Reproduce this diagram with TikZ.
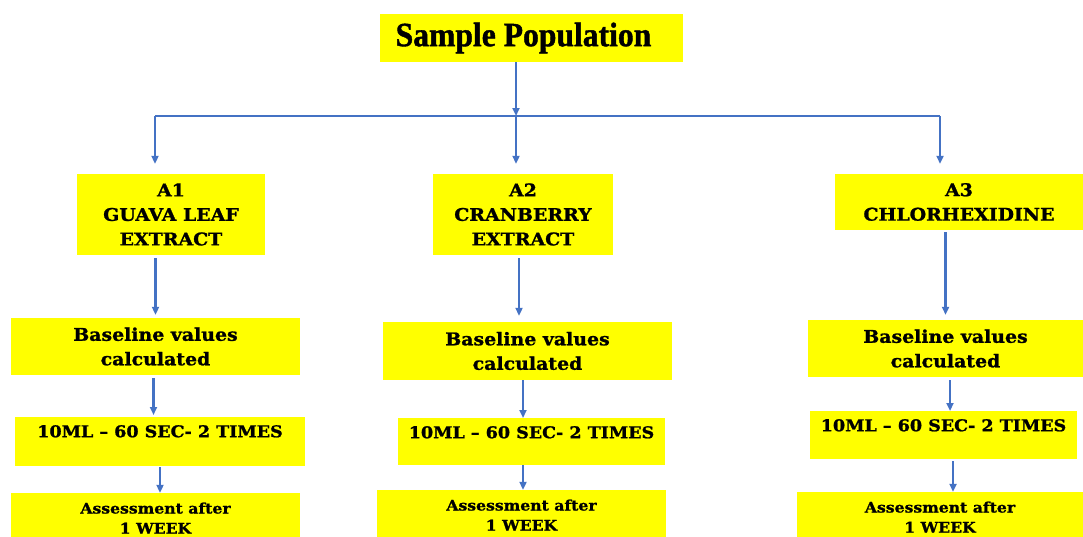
\documentclass[tikz,border=0pt]{standalone}
\usepackage{fontspec}
\setmainfont{DejaVu Serif}
\newfontfamily\bodyfont{DejaVu Serif}[FakeStretch=1.08, BoldFeatures={FakeBold=1.2}]
\newfontfamily\titlefont{Liberation Serif}[FakeStretch=0.93, BoldFeatures={FakeBold=1.2}]
\usetikzlibrary{arrows.meta}
\definecolor{boxyellow}{RGB}{255,255,0}
\definecolor{arrowblue}{RGB}{68,114,196}
\begin{document}
\begin{tikzpicture}[x=1pt,y=-1pt,
  box/.style={fill=boxyellow, draw=none, inner sep=0pt, align=center,
    font=\bodyfont\bfseries\fontsize{17.5}{24.5}\selectfont},
  dosebox/.style={box, anchor=north, text height=20pt,
    font=\bodyfont\bfseries\fontsize{16.2}{22}\selectfont},
  assessbox/.style={box, font=\bodyfont\bfseries\fontsize{14.5}{20}\selectfont},
  conn/.style={draw=arrowblue, line width=2.2pt, -{Triangle[length=8pt,width=7pt]}},
  branch/.style={draw=arrowblue, line width=2.2pt},
]
\useasboundingbox (0,0) rectangle (1083,536);
\clip (0,0) rectangle (1083,536);

% title
\node[box, minimum width=303pt, minimum height=48pt] (top) at (531.5,38)
  {\titlefont\bfseries\fontsize{34}{36}\selectfont Sample Population\hspace*{16pt}};

% groups
\node[box, minimum width=188pt, minimum height=81pt] (a1) at (171,214.5) {A1\\GUAVA LEAF\\EXTRACT};
\node[box, minimum width=180pt, minimum height=81pt] (a2) at (523,214.5) {A2\\CRANBERRY\\EXTRACT};
\node[box, minimum width=248pt, minimum height=56pt] (a3) at (959,202) {A3\\CHLORHEXIDINE};

% baseline
\node[box, minimum width=289pt, minimum height=57pt] (b1) at (155.5,346.5) {Baseline values\\calculated};
\node[box, minimum width=289pt, minimum height=58pt] (b2) at (527.5,351) {Baseline values\\calculated};
\node[box, minimum width=275pt, minimum height=57pt] (b3) at (945.5,348.5) {Baseline values\\calculated};

% dose
\node[dosebox, minimum width=290pt, text depth=29pt] (c1) at (160,417) {10ML – 60 SEC- 2 TIMES};
\node[dosebox, minimum width=267pt, text depth=27pt] (c2) at (531.5,418) {10ML – 60 SEC- 2 TIMES};
\node[dosebox, minimum width=267pt, text depth=28pt] (c3) at (943.5,411) {10ML – 60 SEC- 2 TIMES};

% assessment
\node[assessbox, minimum width=289pt, minimum height=50pt] (d1) at (155.5,518) {Assessment after\\1 WEEK};
\node[assessbox, minimum width=289pt, minimum height=50pt] (d2) at (521.5,515) {Assessment after\\1 WEEK};
\node[assessbox, minimum width=286pt, minimum height=50pt] (d3) at (940,517) {Assessment after\\1 WEEK};

% branching
\coordinate (j) at (516,116);
\coordinate (l) at (155,116);
\coordinate (r) at (940,116);
\draw[conn] (top.south -| j) -- (j);
\draw[branch] (l) -- (r);
\draw[conn, shorten >=10pt] (l) -- (l |- a1.north);
\draw[conn, shorten >=10pt] (j) -- (j |- a2.north);
\draw[conn, shorten >=10pt] (r) -- (r |- a3.north);

% column 1
\draw[conn, shorten <=3pt, shorten >=3pt] (b1.north |- a1.south) -- (b1.north);
\draw[conn, shorten <=3pt, shorten >=2pt] ([xshift=-2pt]b1.south) -- ([xshift=-2pt]b1.south |- c1.north);
\draw[conn, shorten <=1pt] (c1.south) -- (c1.south |- d1.north);

% column 2
\draw[conn, shorten <=3pt, shorten >=6pt] ([xshift=-4pt]a2.south) -- ([xshift=-4pt]a2.south |- b2.north);
\draw[conn] ([xshift=-4.5pt]b2.south) -- ([xshift=-4.5pt]b2.south |- c2.north);
\draw[conn] ([xshift=-8.5pt]c2.south) -- ([xshift=-8.5pt]c2.south |- d2.north);

% column 3
\draw[conn, shorten <=2pt, shorten >=5pt] (b3.north |- a3.south) -- (b3.north);
\draw[conn, shorten <=3pt] ([xshift=4.5pt]b3.south) -- ([xshift=4.5pt]b3.south |- c3.north);
\draw[conn, shorten <=2pt] ([xshift=9.5pt]c3.south) -- ([xshift=9.5pt]c3.south |- d3.north);
\end{tikzpicture}
\end{document}
